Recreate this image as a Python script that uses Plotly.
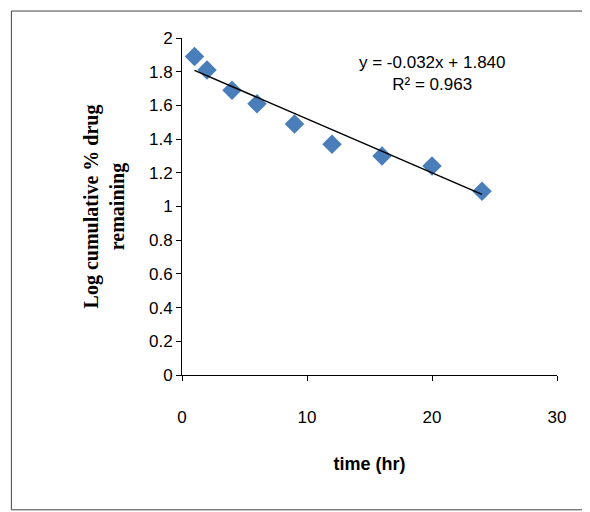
import plotly.graph_objects as go

time_hr = [1, 2, 4, 6, 9, 12, 16, 20, 24]
log_drug = [1.89, 1.81, 1.69, 1.61, 1.49, 1.37, 1.30, 1.24, 1.09]
slope = -0.032
intercept = 1.840

trend_x = [time_hr[0], time_hr[-1]]
trend_y = [slope * x + intercept for x in trend_x]

fig = go.Figure()
fig.add_trace(go.Scatter(x=time_hr, y=log_drug, mode="markers",
                         marker=dict(symbol="diamond", size=15, color="#4a7ebb")))
fig.add_trace(go.Scatter(x=trend_x, y=trend_y, mode="lines",
                         line=dict(color="black", width=1.5)))

fig.add_annotation(x=0.87, y=0.96, xref="paper", yref="paper",
                   text="y = -0.032x + 1.840<br>R² = 0.963", showarrow=False,
                   font=dict(size=17, family="Liberation Sans", color="black"), align="center")

fig.update_layout(
    width=590, height=512, showlegend=False,
    plot_bgcolor="white", paper_bgcolor="white",
    margin=dict(l=174, r=41, t=30, b=145),
    font=dict(family="Liberation Sans", size=17, color="black"),
    shapes=[dict(type="rect", xref="paper", yref="paper", x0=-0.455, x1=1.075, y0=-0.4, y1=1.08,
                 line=dict(color="#444", width=1))],
)
fig.update_xaxes(range=[0, 30], dtick=10, showline=True, linecolor="black",
                 ticks="outside", ticklen=5, tickcolor="black", showgrid=False, zeroline=False,
                 ticklabelstandoff=22,
                 title=dict(text="<b>time (hr)</b>", font=dict(size=18), standoff=30))
fig.update_yaxes(range=[0, 2], dtick=0.2, showline=True, linecolor="black",
                 ticks="outside", ticklen=5, tickcolor="black", showgrid=False, zeroline=False,
                 title=dict(text="<b>Log cumulative % drug<br>remaining</b>",
                            font=dict(size=20, family="Liberation Serif"), standoff=18))

fig.write_html("out.html")
